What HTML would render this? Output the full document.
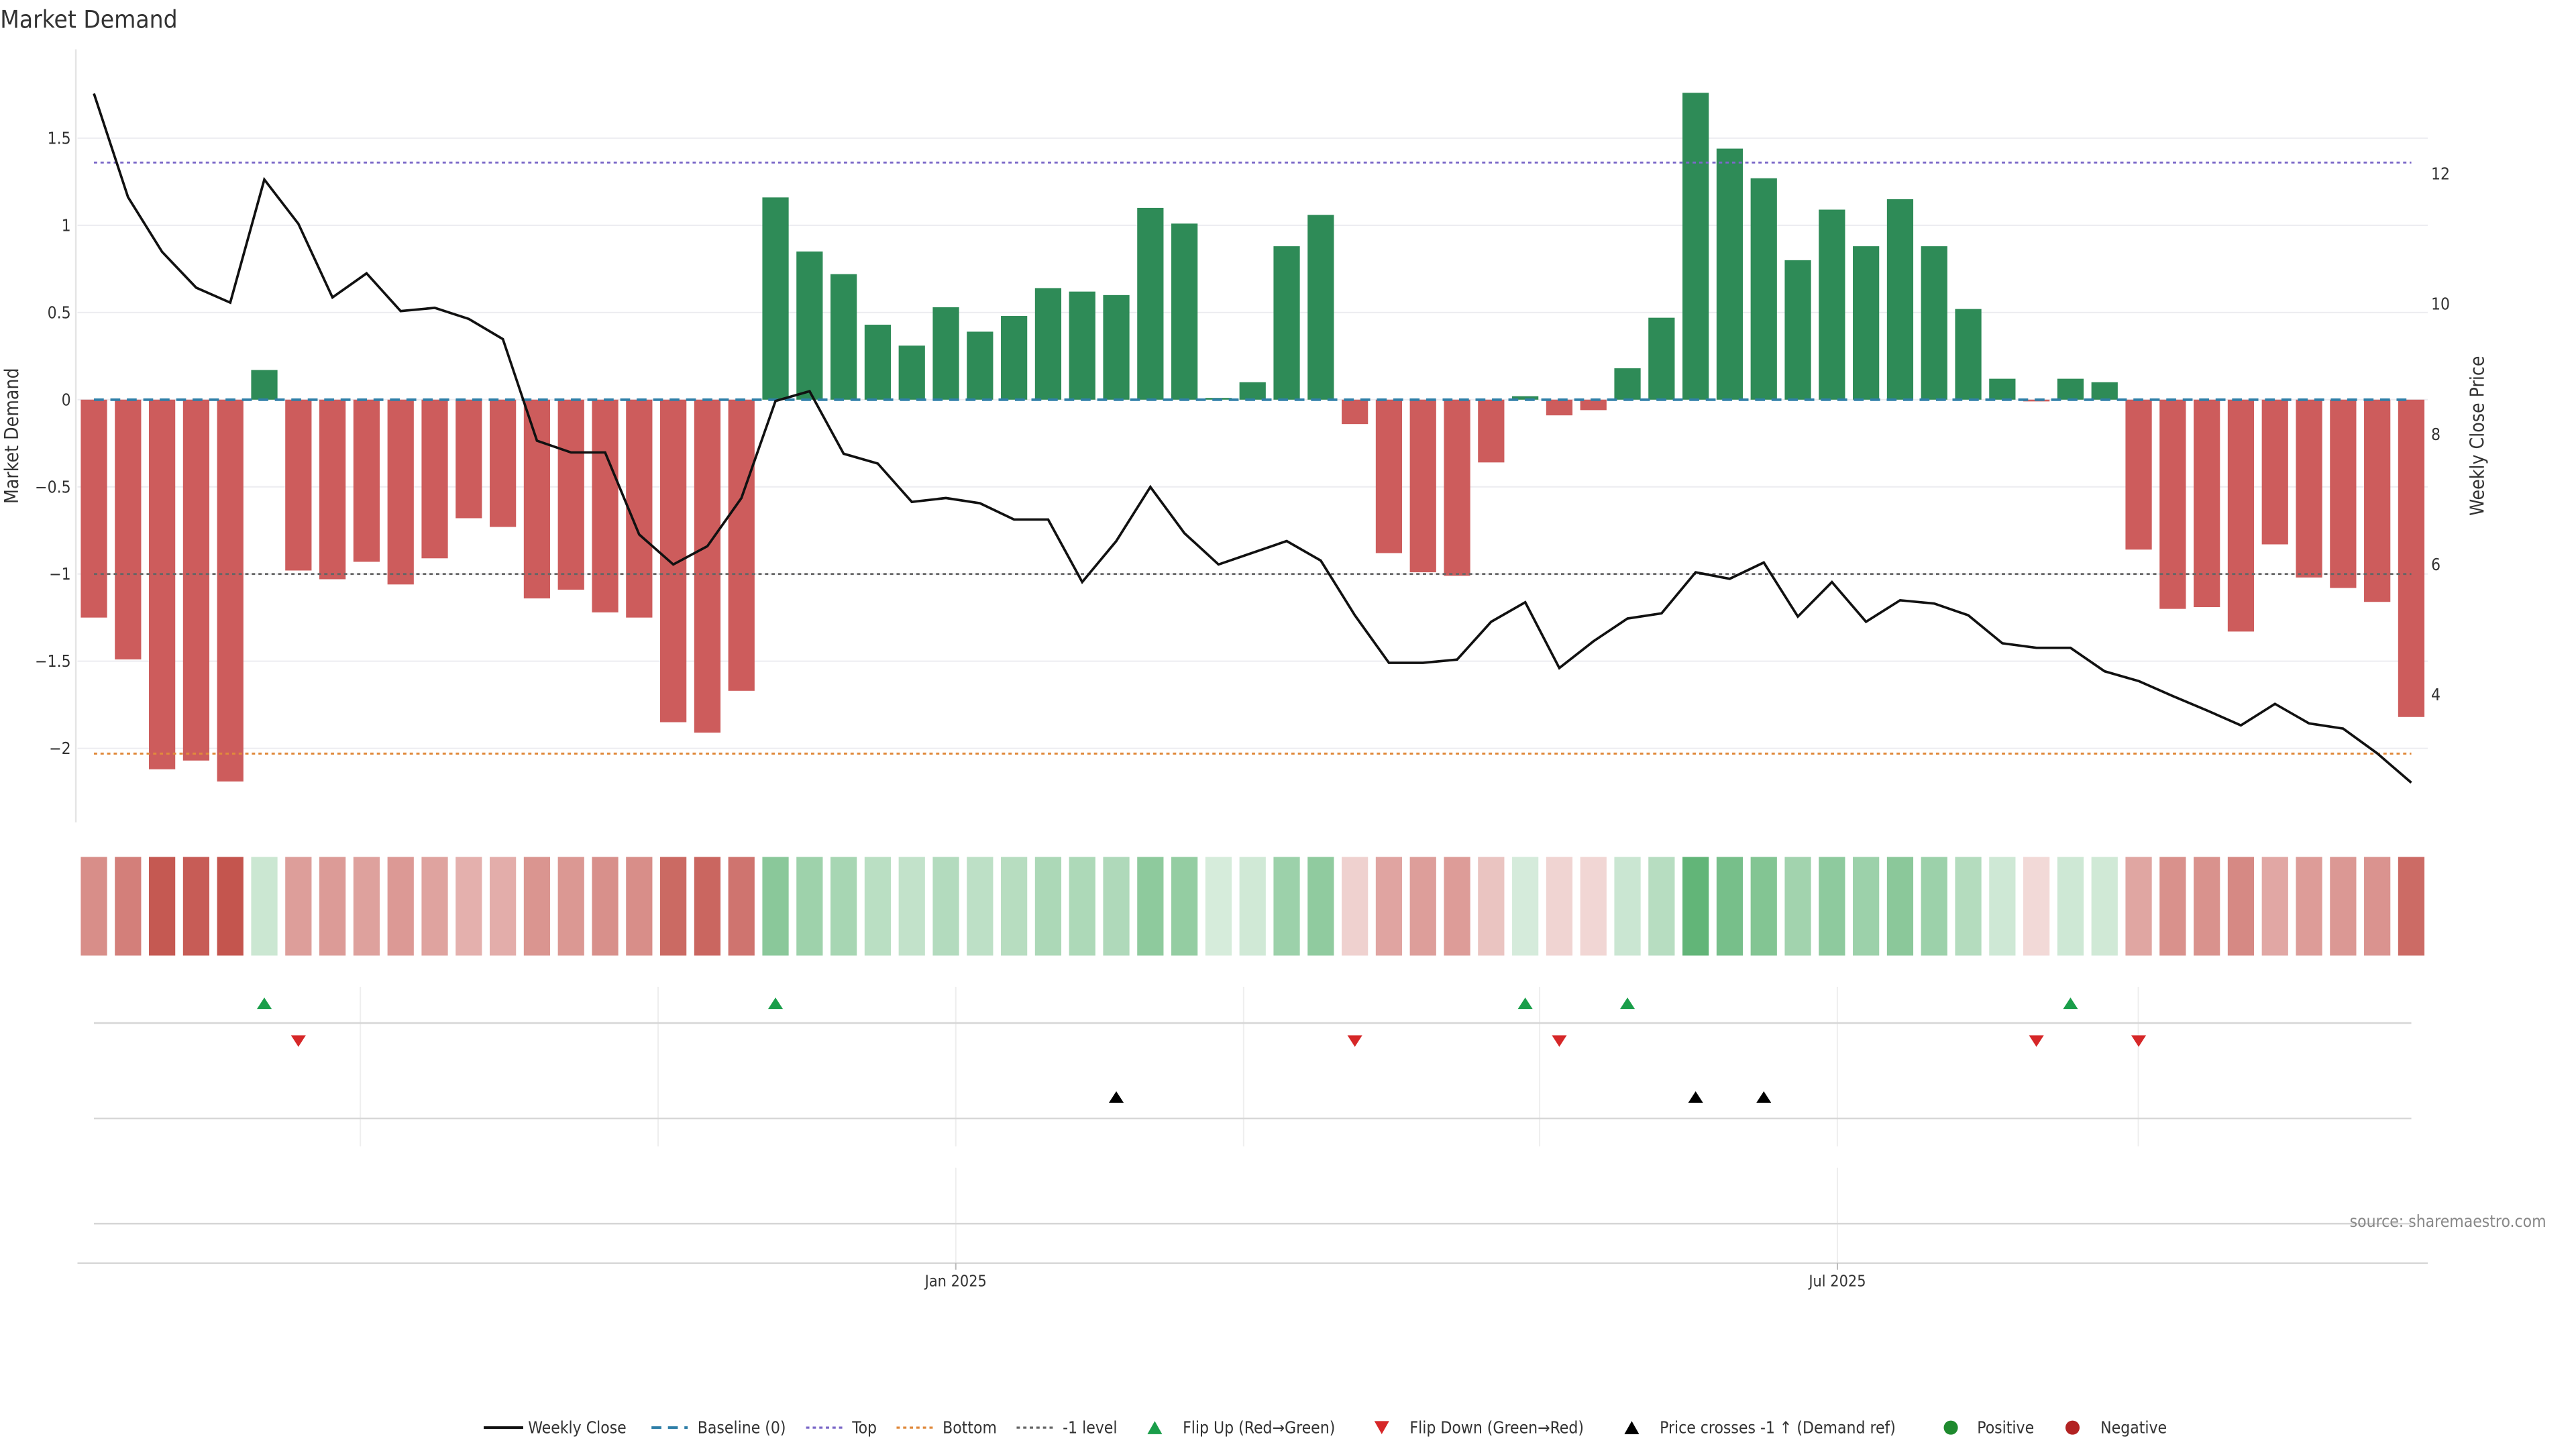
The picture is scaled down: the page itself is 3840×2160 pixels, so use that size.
<!DOCTYPE html>
<html><head><meta charset="utf-8"><title>Market Demand</title>
<style>
html,body{margin:0;padding:0;background:#fff;}
svg{display:block;font-family:"DejaVu Sans Condensed","DejaVu Sans","Liberation Sans",sans-serif;}
</style></head>
<body>
<svg id="chart" width="3840" height="2160" viewBox="0 0 1566 881" xmlns="http://www.w3.org/2000/svg">
<rect x="0" y="0" width="1566" height="881" fill="#fff"/>
<text x="0" y="17" font-size="15" fill="#333">Market Demand</text>
<g id="grid"></g>
<g id="bars"></g>
<g id="refs"></g>
<g id="price"></g>
<g id="heat"></g>
<g id="flips"></g>
<g id="axes"></g>
<g id="legend"></g>
</svg>
<script>
const demand = [-1.25,-1.49,-2.12,-2.07,-2.19,0.17,-0.98,-1.03,-0.93,-1.06,-0.91,-0.68,-0.73,-1.14,-1.09,-1.22,-1.25,-1.85,-1.91,-1.67,
1.16,0.85,0.72,0.43,0.31,0.53,0.39,0.48,0.64,0.62,0.60,1.10,1.01,0.01,0.10,0.88,1.06,-0.14,-0.88,-0.99,-1.01,-0.36,0.02,-0.09,-0.06,
0.18,0.47,1.76,1.44,1.27,0.80,1.09,0.88,1.15,0.88,0.52,0.12,-0.01,0.12,0.10,-0.86,-1.20,-1.19,-1.33,-0.83,-1.02,-1.08,-1.16,-1.82];
const weeklyClose = [13.23,11.64,10.80,10.25,10.02,11.91,11.23,10.10,10.47,9.89,9.94,9.77,9.46,7.90,7.72,7.72,6.46,6.00,6.28,7.02,
8.51,8.66,7.70,7.55,6.96,7.02,6.94,6.69,6.69,5.73,6.36,7.19,6.48,6.00,6.18,6.36,6.06,5.22,4.49,4.49,4.54,5.12,5.42,4.41,4.82,
5.17,5.25,5.88,5.78,6.03,5.20,5.73,5.12,5.45,5.40,5.22,4.79,4.72,4.72,4.36,4.21,3.98,3.76,3.53,3.86,3.56,3.48,3.10,2.65];
const leftTicks = [1.5,1,0.5,0,-0.5,-1,-1.5,-2];
const rightTicks = [12,10,8,6,4];
const topLevel = 1.36, bottomLevel = -2.03, minusOneLevel = -1;
const priceAtMinusOne = 5.85;
const dateTicks = ["Jan 2025","Jul 2025"];
const dateTickIndex = [25.29,51.16];

const NS="http://www.w3.org/2000/svg";
function mk(tag,attrs,parent,txt){const e=document.createElementNS(NS,tag);for(const k in attrs)e.setAttribute(k,attrs[k]);if(txt!==undefined)e.textContent=txt;parent.appendChild(e);return e;}
const X0=57, DX=20.72;
const xs = i => X0 + DX*i;
const yL = v => 243 - 106*v;
const yR = p => 264 - 39.6*(p-8);
const G=id=>document.getElementById(id);

leftTicks.forEach(t=>{
  const l=mk('line',{x1:47,x2:1476,y1:yL(t),y2:yL(t),stroke:'#ececf0','stroke-width':0.8},G('grid'));
  
  
  const tx=mk('text',{x:43,y:yL(t)+3.5,'font-size':10,'text-anchor':'end',fill:'#333'},G('axes'),String(t).replace('-','−'));
  
  
});
rightTicks.forEach(t=>{
  const tx=mk('text',{x:1478,y:yR(t)+3.5,'font-size':10,fill:'#333'},G('axes'),String(t));
  
  
});
mk('line',{x1:46,x2:46,y1:30,y2:500,stroke:'#e4e4e4','stroke-width':1},G('axes'));

demand.forEach((v,i)=>{
  const y0=yL(0), y1=yL(v);
  const r=mk('rect',{x:xs(i)-8,width:16,y:Math.min(y0,y1),height:Math.max(0.6,Math.abs(y1-y0)),fill:v>=0?'#2e8b57':'#cd5c5c'},G('bars'));
  
  
});

function refLine(y,color,dash,name,w){const l=mk('line',{x1:57,x2:1466,y1:y,y2:y,stroke:color,'stroke-width':w||1.2,'stroke-dasharray':dash},G('refs'));}
refLine(yL(0),'#2f7fa8','6,4','baseline-line',1.6);
refLine(yL(topLevel),'#7b68c8','2,2','top-line');
refLine(yL(bottomLevel),'#e08a3c','2,2','bottom-line');
refLine(yL(minusOneLevel),'#666','2,2','minus-one-level-line');

const pl=mk('polyline',{points:weeklyClose.map((p,i)=>xs(i)+','+yR(p)).join(' '),fill:'none',stroke:'#111','stroke-width':1.5,'stroke-linejoin':'miter'},G('price'));



const maxAbs=Math.max(...demand.map(Math.abs));
function blend(c,a){return 'rgb('+c.map(v=>Math.round(255+(v-255)*a)).join(',')+')';}
demand.forEach((v,i)=>{
  const a=0.22+0.78*Math.abs(v)/maxAbs;
  const c=v>=0?blend([70,168,95],a):blend([196,85,78],a);
  const r=mk('rect',{x:xs(i)-8,y:521,width:16,height:60,fill:c},G('heat'));
  
  
});

const vgrid=[219,400,581,756,936,1117,1300];
vgrid.forEach(x=>{
  mk('line',{x1:x,x2:x,y1:600,y2:697,stroke:'#eeeeee','stroke-width':0.8},G('flips'));
});
dateTickIndex.forEach(i=>mk('line',{x1:xs(i),x2:xs(i),y1:710,y2:768,stroke:'#eeeeee','stroke-width':0.8},G('flips')));
[622,680,744].forEach(y=>{
  const l=mk('line',{x1:57,x2:1466,y1:y,y2:y,stroke:'#d6d6d6','stroke-width':1},G('flips'));
  
  
});
function tri(x,y,up,color,name){const s=4.5,h=7;const pts=up?`${x-s},${y+h/2} ${x+s},${y+h/2} ${x},${y-h/2}`:`${x-s},${y-h/2} ${x+s},${y-h/2} ${x},${y+h/2}`;const p=mk('polygon',{points:pts,fill:color},G('flips'));}
for(let i=1;i<demand.length;i++){
  if(demand[i-1]<0&&demand[i]>=0) tri(xs(i),610,true,'#1a9e4a','flip-up-marker');
  if(demand[i-1]>=0&&demand[i]<0) tri(xs(i),633,false,'#d62728','flip-down-marker');
  if(weeklyClose[i-1]<priceAtMinusOne&&weeklyClose[i]>=priceAtMinusOne) tri(xs(i),667,true,'#000','price-cross-marker');
}

mk('line',{x1:47,x2:1476,y1:768,y2:768,stroke:'#d6d6d6','stroke-width':1},G('axes'));
dateTicks.forEach((d,k)=>{
  const x=xs(dateTickIndex[k]);
  mk('line',{x1:x,x2:x,y1:768,y2:772,stroke:'#bbb','stroke-width':0.8},G('axes'));
  const t=mk('text',{x:x,y:782,'font-size':9.5,'text-anchor':'middle',fill:'#333'},G('axes'),d);
  
  
});
</script>
<script>
(function(){
const NS="http://www.w3.org/2000/svg";
function mk(tag,attrs,parent,txt){const e=document.createElementNS(NS,tag);for(const k in attrs)e.setAttribute(k,attrs[k]);if(txt!==undefined)e.textContent=txt;parent.appendChild(e);return e;}
const ax=document.getElementById('axes');
const a=mk('text',{x:11,y:265,'font-size':11.5,'text-anchor':'middle',fill:'#333',transform:'rotate(-90 11 265)'},ax,'Market Demand');


const b=mk('text',{x:1510,y:265,'font-size':11.5,'text-anchor':'middle',fill:'#333',transform:'rotate(-90 1510 265)'},ax,'Weekly Close Price');


const s=mk('text',{x:1548,y:746,'font-size':10,'text-anchor':'end',fill:'#888'},ax,'source: sharemaestro.com');


const lg=document.getElementById('legend');
const y=868;
function L(name,x1,x2,color,dash,w,tx,label){const g=mk('g',{},lg);mk('line',{x1:x1,x2:x2,y1:y,y2:y,stroke:color,'stroke-width':w,'stroke-dasharray':dash||'none'},g);mk('text',{x:tx,y:y+3.5,'font-size':10,fill:'#333'},g,label);}
L('legend-weekly-close',294,318,'#111','',1.6,321,'Weekly Close');
L('legend-baseline',396,418,'#2f7fa8','6,4',1.6,424,'Baseline (0)');
L('legend-top',490,512,'#7b68c8','2,2',1.3,518,'Top');
L('legend-bottom',545,567,'#e08a3c','2,2',1.3,573,'Bottom');
L('legend-minus-one',618,640,'#666','2,2',1.3,646,'-1 level');
function T(name,x,up,color,tx,label){const g=mk('g',{},lg);const s=4.5,h=8;mk('polygon',{points:up?`${x-s},${y+h/2} ${x+s},${y+h/2} ${x},${y-h/2}`:`${x-s},${y-h/2} ${x+s},${y-h/2} ${x},${y+h/2}`,fill:color},g);mk('text',{x:tx,y:y+3.5,'font-size':10,fill:'#333'},g,label);}
T('legend-flip-up',702,true,'#1a9e4a',719,'Flip Up (Red→Green)');
T('legend-flip-down',840,false,'#d62728',857,'Flip Down (Green→Red)');
T('legend-price-cross',992,true,'#000',1009,'Price crosses -1 ↑ (Demand ref)');
function C(name,x,color,tx,label){const g=mk('g',{},lg);mk('circle',{cx:x,cy:y,r:4.3,fill:color},g);mk('text',{x:tx,y:y+3.5,'font-size':10,fill:'#333'},g,label);}
C('legend-positive',1186,'#1e8a2e',1202,'Positive');
C('legend-negative',1260,'#b22222',1277,'Negative');
})();
</script>
</body></html>
